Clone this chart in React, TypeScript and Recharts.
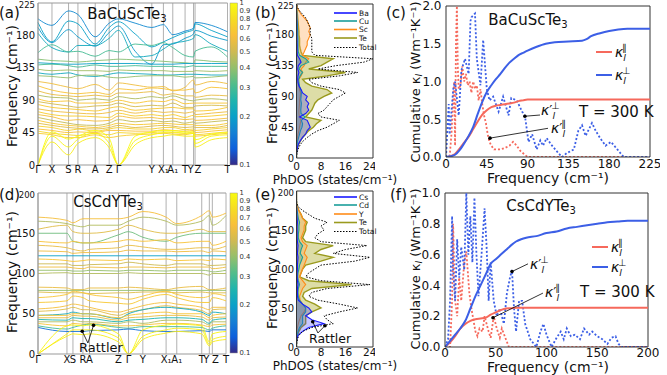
import React from "react";
import {
  LineChart,
  Line,
  XAxis,
  YAxis,
  ReferenceLine,
  ReferenceDot,
  ComposedChart,
  Area,
} from "recharts";

const FONT = "DejaVu Sans";
const INK = "#111";
const FRAME = "#333";
const BAND_FRAME = "#999";

// ---------------- (a) BaCuScTe3 phonon bands ----------------
const kPathA = [0, 14, 30.6, 40, 57.3, 71.3, 80.6, 97.3, 114, 125.6, 135, 147.3, 155.8, 157.3, 173.5, 189.8];
const kLabelsA = ["Γ", "X", "S", "R", "A", "Z", "Γ", "", "Y", "X₁", "A₁", "T", "Y", "Z", "", "T"];
const bandsA = [
  [203, 194, 214, 209, 178, 197, 203, 197, 191, 195, 181, 186, 190, 198, 194, 185],
  [198, 171, 200, 196, 168, 191, 199, 182, 164, 171, 177, 184, 188, 196, 187, 178],
  [191, 170, 188, 178, 165, 184, 193, 158, 140, 167, 168, 176, 182, 187, 179, 173],
  [183, 163, 157, 166, 166, 176, 187, 150, 152, 161, 169, 172, 176, 181, 168, 158],
  [156, 167, 157, 158, 151, 159, 157, 168, 166, 170, 163, 152, 150, 158, 164, 150],
  [147, 145, 144, 143, 145, 146, 147, 146, 145, 144, 143, 142, 141, 146, 144, 143],
  [142, 141, 140, 140, 141, 141, 141, 141, 140, 140, 140, 141, 141, 141, 141, 141],
  [139, 140, 138, 136, 139, 137, 137, 138, 137, 137, 137, 136, 138, 137, 137, 137],
  [133, 131, 132, 131, 131, 130, 132, 131, 131, 131, 130, 130, 130, 131, 130, 131],
  [128, 126, 128, 125, 123, 126, 128, 127, 126, 125, 125, 126, 126, 126, 125, 125],
  [124, 123, 121, 124, 125, 122, 121, 123, 124, 124, 124, 122, 123, 121, 122, 124],
  [116, 113, 108, 106, 112, 104, 114, 111, 108, 109, 103, 108, 118, 111, 116, 113],
  [110, 104, 100, 99, 101, 98, 106, 104, 107, 106, 104, 104, 106, 100, 108, 106],
  [103, 98, 96, 95, 97, 95, 100, 100, 102, 97, 99, 96, 96, 94, 97, 96],
  [97, 94, 93, 90, 92, 90, 95, 92, 95, 93, 96, 91, 89, 90, 92, 90],
  [92, 88, 89, 86, 86, 87, 90, 86, 89, 88, 91, 85, 86, 86, 86, 86],
  [88, 85, 82, 80, 82, 83, 86, 81, 83, 82, 86, 80, 80, 82, 83, 82],
  [84, 80, 78, 77, 75, 79, 81, 76, 78, 79, 80, 78, 78, 75, 76, 80],
  [78, 75, 73, 72, 71, 73, 76, 72, 75, 73, 74, 72, 74, 70, 72, 74],
  [74, 70, 68, 68, 67, 66, 72, 68, 70, 68, 70, 66, 69, 67, 68, 70],
  [70, 67, 62, 63, 61, 62, 68, 65, 66, 64, 65, 63, 64, 62, 63, 65],
  [66, 62, 58, 56, 55, 58, 63, 60, 62, 60, 61, 58, 60, 58, 60, 62],
  [62, 58, 55, 54, 52, 55, 58, 56, 57, 58, 57, 56, 56, 55, 55, 58],
  [58, 55, 52, 51, 50, 52, 55, 52, 54, 55, 54, 52, 53, 52, 52, 55],
  [54, 52, 48, 50, 47, 50, 52, 50, 50, 52, 52, 49, 50, 48, 50, 52],
  [50, 48, 45, 46, 45, 48, 48, 47, 47, 49, 48, 47, 48, 45, 47, 49],
  [47, 44, 42, 41, 44, 42, 45, 44, 45, 46, 45, 44, 46, 42, 44, 46],
  [44, 42, 38, 38, 42, 38, 40, 42, 43, 44, 43, 42, 44, 40, 42, 44],
  [0, 46, 36, 40, 48, 37, 0, 40, 46, 48, 48, 46, 46, 35, 43, 45],
  [0, 40, 25, 36, 44, 30, 0, 34, 42, 45, 46, 44, 44, 30, 40, 42],
  [0, 32, 14, 30, 38, 24, 0, 28, 38, 40, 42, 40, 40, 25, 35, 38],
];
const weightsA = [
  0.17, 0.2, 0.19, 0.22, 0.3, 0.38, 0.2, 0.3, 0.42, 0.22, 0.4,
  0.6, 0.65, 0.58, 0.45, 0.66, 0.52, 0.68, 0.6, 0.7, 0.62, 0.48, 0.68, 0.55, 0.72, 0.64, 0.75, 0.7,
  1, 0.95, 0.9,
];

// ---------------- (d) CsCdYTe3 phonon bands ----------------
const kPathD = [0, 29, 35, 45, 51.6, 80.6, 90.6, 105, 128.3, 139, 164, 171.6, 174.6, 188.3];
const kLabelsD = ["Γ", "X", "S", "R", "A", "Z", "Γ", "Y", "X₁", "A₁", "T", "Y", "Z", "T"];
const bandsD = [
  [170, 166, 163, 168, 168, 168, 170, 177, 170, 162, 172, 178, 170, 175],
  [165, 162, 160, 158, 160, 160, 165, 170, 165, 160, 165, 172, 160, 172],
  [155, 160, 152, 150, 150, 155, 160, 155, 150, 150, 155, 152, 152, 152],
  [150, 150, 140, 138, 138, 148, 152, 145, 140, 145, 150, 150, 150, 150],
  [140, 138, 140, 138, 138, 140, 142, 140, 142, 138, 140, 140, 135, 140],
  [135, 132, 130, 128, 130, 132, 135, 133, 130, 130, 132, 132, 130, 134],
  [128, 127, 125, 126, 126, 127, 129, 128, 128, 127, 128, 126, 128, 127],
  [122, 122, 122, 122, 122, 122, 122, 122, 122, 122, 122, 122, 122, 122],
  [118, 116, 115, 116, 117, 116, 118, 117, 118, 116, 117, 116, 118, 117],
  [112, 112, 110, 110, 111, 112, 114, 112, 110, 112, 112, 110, 110, 111],
  [108, 108, 107, 106, 108, 107, 108, 108, 107, 108, 108, 108, 106, 108],
  [104, 104, 103, 103, 104, 103, 104, 104, 103, 104, 104, 103, 102, 104],
  [100, 101, 100, 100, 100, 100, 101, 100, 100, 100, 100, 98, 100, 100],
  [83, 82, 80, 80, 82, 82, 83, 82, 80, 82, 84, 80, 80, 82],
  [79, 79, 79, 79, 79, 79, 79, 79, 79, 79, 79, 79, 79, 79],
  [77, 76, 76, 76, 75, 76, 76, 77, 77, 76, 77, 76, 76, 76],
  [70, 74, 78, 76, 74, 70, 68, 72, 78, 74, 70, 72, 75, 72],
  [64, 66, 72, 70, 66, 63, 62, 68, 74, 70, 64, 64, 70, 66],
  [56, 60, 62, 60, 58, 52, 55, 60, 64, 62, 58, 55, 58, 58],
  [53, 56, 58, 55, 55, 48, 52, 55, 60, 58, 54, 50, 55, 56],
  [48, 50, 52, 50, 50, 44, 50, 55, 58, 57, 52, 48, 52, 50],
  [48, 48, 50, 50, 50, 45, 48, 50, 52, 50, 50, 45, 48, 50],
  [45, 45, 48, 47, 47, 42, 45, 46, 48, 48, 46, 42, 45, 46],
  [43, 42, 45, 44, 44, 40, 42, 43, 45, 45, 43, 38, 42, 44],
  [40, 40, 42, 40, 40, 38, 40, 38, 42, 42, 40, 36, 40, 40],
  [38, 35, 38, 37, 38, 35, 35, 36, 38, 38, 36, 34, 36, 37],
  [35, 31, 33, 36, 37, 33, 32, 34, 34, 34, 33, 30, 32, 35],
  [33, 28, 28, 28, 29, 30, 31, 29, 28, 28, 29, 28, 30, 30],
  [0, 35, 36, 35, 36, 25, 0, 30, 36, 37, 35, 15, 25, 28],
  [0, 25, 30, 30, 30, 20, 0, 22, 30, 32, 30, 12, 18, 22],
  [0, 22, 25, 24, 25, 15, 0, 18, 26, 28, 25, 10, 15, 18],
];
const weightsD = [
  0.62, 0.45, 0.55, 0.35, 0.65, 0.58, 0.6, 0.2, 0.66, 0.5, 0.6, 0.4, 0.45,
  0.58, 0.4, 0.55, 0.66, 0.68, 0.62, 0.55, 0.22, 0.66, 0.58, 0.25, 0.45, 0.65, 0.3,
  0.14, 0.95, 0.92, 0.9,
];

// ---------------- (b) / (e) phonon DOS ----------------
const freqB = [0, 5, 10, 15, 20, 25, 30, 35, 40, 45, 50, 55, 60, 65, 70, 75, 80, 85, 90, 95, 100, 105, 110, 115, 120, 125, 130, 135, 140, 145, 150, 155, 160, 165, 170, 175, 180, 185, 190, 195, 200, 205, 210, 215, 220, 225];
const dosBa = [0, 0, 0.1, 0.3, 0.6, 1.2, 2, 3, 3.5, 4.5, 4, 3.5, 1, 3, 4, 3.5, 4, 3, 3.5, 2, 1.5, 0.8, 0.5, 0.4, 0.5, 0.8, 0.4, 0.6, 1.5, 1, 0.3, 0.2, 0.2, 0.2, 0.15, 0.15, 0.1, 0.1, 0.1, 0.1, 0.1, 0.05, 0.05, 0, 0, 0];
const dosCu = [0, 0, 0.05, 0.1, 0.2, 0.4, 0.7, 1, 1.3, 1.8, 2, 1.6, 2.8, 1.5, 1.4, 1.5, 1.6, 1.4, 1.5, 1.6, 1.4, 1, 0.8, 0.7, 1.2, 2, 0.8, 1.5, 4, 3, 1, 0.6, 0.5, 0.5, 0.5, 0.5, 0.4, 0.4, 0.3, 0.3, 0.2, 0.1, 0.1, 0.05, 0, 0];
const dosSc = [0, 0, 0, 0.05, 0.1, 0.2, 0.3, 0.5, 0.8, 1, 1.2, 1.5, 1, 0.8, 0.8, 0.9, 1, 1, 1.2, 1.3, 1, 0.8, 0.7, 0.8, 1.5, 2, 1.5, 2.5, 3, 4, 2, 2.5, 3, 3.5, 3.5, 4, 4.5, 4, 4.5, 4, 3.5, 2.5, 1.5, 0.8, 0.2, 0];
const dosTeB = [0, 0, 0.1, 0.3, 0.7, 1.3, 2, 3, 4, 5.5, 6.5, 8, 3, 4, 5, 5.5, 6, 7, 9, 11.5, 10, 5, 3, 2, 10, 16, 4, 8, 10, 12, 2, 1.5, 1.2, 1, 1, 1, 0.8, 0.8, 0.7, 0.6, 0.5, 0.4, 0.3, 0.2, 0.1, 0];
const dosTotB = [0, 0.1, 0.3, 0.7, 1.3, 2.2, 3.5, 5, 7, 10, 12, 14, 8, 7, 9, 10, 11, 12, 14, 16, 14, 8, 5, 4, 14, 20, 7, 13, 22, 25, 6, 5, 5, 5, 5, 5, 4.5, 4.5, 4.5, 4, 3.5, 3, 2, 1, 0.3, 0];
const elementsB = ["Ba", "Cu", "Sc", "Te"];

const freqE = [0, 5, 10, 15, 20, 25, 30, 35, 40, 45, 50, 55, 60, 65, 70, 75, 80, 85, 90, 95, 100, 105, 110, 115, 120, 125, 130, 135, 140, 145, 150, 155, 160, 165, 170, 175, 180, 185, 190, 195, 200];
const dosCs = [0, 0, 0.1, 0.5, 2, 4, 9, 5, 3, 5, 4, 2, 0.6, 0.3, 0.3, 0.3, 0.5, 0.3, 0.2, 0.2, 0.3, 0.3, 0.4, 0.5, 0.3, 0.4, 0.5, 0.3, 0.2, 0.2, 0.2, 0.2, 0.3, 0.2, 0.1, 0.1, 0, 0, 0, 0, 0];
const dosCd = [0, 0, 0.05, 0.2, 0.5, 1, 2, 2, 2, 3, 3, 2, 1, 0.6, 0.5, 0.6, 1, 0.6, 0.4, 0.5, 0.8, 1, 1.5, 2, 1.2, 1.5, 2, 1, 0.6, 0.6, 0.8, 0.8, 1, 0.6, 0.4, 0.2, 0.05, 0, 0, 0, 0];
const dosY = [0, 0, 0, 0.05, 0.1, 0.3, 0.6, 1, 1.5, 2.5, 3, 2, 1.2, 1, 1.5, 2, 3, 2, 1, 1.5, 2, 2.5, 3, 3.5, 2.5, 3, 3.5, 2, 1.5, 2, 2.5, 2.5, 3, 2, 1.5, 0.8, 0.2, 0, 0, 0, 0];
const dosTeE = [0, 0, 0.1, 0.3, 0.8, 1.5, 3, 3, 3, 5, 8, 6, 3, 2, 2.5, 5, 18, 4, 1, 1.5, 2, 3, 8, 12, 6, 8, 12, 3, 2, 2.5, 3, 3, 3.5, 2, 1.5, 0.8, 0.2, 0, 0, 0, 0];
const dosTotE = [0, 0.1, 0.3, 0.8, 2, 5, 12, 10, 9, 14, 20, 14, 7, 4, 5, 10, 24, 8, 3, 4, 6, 8, 19, 24, 12, 16, 23, 8, 6, 7, 9, 8, 10, 6, 4, 2, 0.5, 0.1, 0, 0, 0];
const elementsE = ["Cs", "Cd", "Y", "Te"];

// ---------------- (c) cumulative kappa, BaCuScTe3 ----------------
const cumFreqC = [0, 5, 10, 15, 20, 25, 30, 35, 40, 45, 50, 55, 60, 65, 70, 75, 80, 85, 90, 100, 110, 120, 135, 150, 155, 160, 170, 180, 190, 200, 225];
const kParC = [0, 0.01, 0.04, 0.11, 0.19, 0.27, 0.37, 0.47, 0.56, 0.62, 0.66, 0.68, 0.69, 0.7, 0.71, 0.72, 0.74, 0.75, 0.76, 0.76, 0.76, 0.76, 0.76, 0.76, 0.76, 0.76, 0.76, 0.76, 0.76, 0.76, 0.76];
const kPerpC = [0, 0.01, 0.03, 0.09, 0.18, 0.28, 0.4, 0.57, 0.73, 0.86, 0.95, 1.03, 1.1, 1.18, 1.25, 1.3, 1.35, 1.38, 1.41, 1.46, 1.5, 1.52, 1.53, 1.54, 1.56, 1.6, 1.64, 1.67, 1.69, 1.7, 1.7];
const specFreqParC = [
  0, 4, 6, 8, 9, 10, 11, 12, 13, 14,
  16, 18, 20, 22, 24, 26, 28, 30, 32, 34,
  36, 38, 40, 42, 44, 46, 48, 50, 53, 56,
  60, 65, 70, 74, 78, 82, 86, 90, 225,
];
const specParC = [
  0, 0, 0.3, 0.8, 1.0, 0.15, 1.5, 2.0, 1.2, 0.9,
  0.95, 1.2, 1.0, 1.1, 0.95, 1.0, 0.85, 1.0, 0.9, 0.95,
  0.75, 0.9, 0.7, 0.55, 0.45, 0.3, 0.2, 0.15, 0.1, 0.1,
  0.1, 0.12, 0.15, 0.2, 0.15, 0.08, 0.04, 0, 0,
];
const specFreqPerpC = [
  0, 3, 4, 8, 10, 14, 17, 21, 25, 27,
  28, 32, 34, 38, 41, 45, 48, 52, 58, 63,
  69, 72, 78, 84, 87, 91, 95, 100, 104, 107,
  111, 117, 124, 128, 133, 141, 146, 150, 154, 161,
  165, 170, 176, 182, 189, 196, 225,
];
const specPerpC = [
  0, 0.7, 0.3, 0.9, 1.0, 0.55, 1.15, 1.3, 1.1, 1.8,
  1.85, 1.9, 1.3, 0.95, 1.55, 0.9, 0.75, 0.8, 0.6, 0.8,
  0.55, 0.78, 0.75, 0.6, 0.55, 0.2, 0.3, 0.1, 0.22, 0.15,
  0.25, 0.15, 0.05, 0, 0.05, 0.1, 0.35, 0.42, 0.28, 0.45,
  0.35, 0.25, 0.15, 0.2, 0.1, 0, 0,
];

// ---------------- (f) cumulative kappa, CsCdYTe3 ----------------
const cumFreqF = [0, 5, 10, 15, 20, 25, 30, 35, 40, 45, 50, 55, 60, 65, 70, 75, 80, 90, 100, 110, 120, 130, 140, 150, 160, 170, 180, 200];
const kParF = [0, 0.03, 0.07, 0.12, 0.15, 0.17, 0.18, 0.185, 0.19, 0.21, 0.225, 0.24, 0.25, 0.252, 0.255, 0.255, 0.255, 0.255, 0.255, 0.255, 0.255, 0.255, 0.255, 0.255, 0.255, 0.255, 0.255, 0.255];
const kPerpF = [0, 0.04, 0.08, 0.12, 0.17, 0.25, 0.33, 0.4, 0.47, 0.54, 0.57, 0.6, 0.63, 0.66, 0.685, 0.7, 0.71, 0.72, 0.74, 0.75, 0.77, 0.78, 0.79, 0.8, 0.81, 0.815, 0.82, 0.82];
const specFreqParF = [
  0, 5, 7, 8, 10, 12, 14, 16, 19, 21,
  24, 26, 30, 32, 34, 37, 39, 43, 45, 48,
  51, 54, 56, 60, 63, 200,
];
const specParF = [
  0, 0, 0.3, 0.8, 0.3, 0.2, 0.45, 0.3, 0.55, 0.62,
  0.35, 0.25, 0.1, 0.07, 0.12, 0.1, 0.2, 0.1, 0.06, 0.2,
  0.12, 0.06, 0.12, 0.05, 0, 0,
];
const specFreqPerpF = [
  0, 3, 5, 7, 8, 10, 12, 14, 16, 19,
  21, 23, 25, 27, 29, 31, 33, 36, 39, 41,
  43, 45, 48, 51, 54, 58, 61, 64, 66, 68,
  70, 73, 76, 79, 84, 90, 94, 97, 100, 105,
  110, 114, 117, 120, 124, 128, 133, 137, 142, 145,
  150, 155, 160, 164, 168, 171, 174, 200,
];
const specPerpF = [
  0, 0.05, 0.3, 0.85, 0.5, 0.3, 0.7, 0.45, 0.65, 0.5,
  1.0, 0.6, 0.85, 0.55, 0.97, 0.6, 0.33, 0.6, 0.9, 0.65,
  0.3, 0.55, 0.3, 0.2, 0.25, 0.15, 0.35, 0.45, 0.5, 0.25,
  0.1, 0.3, 0.3, 0.15, 0.05, 0, 0.1, 0.15, 0.08, 0,
  0.06, 0.1, 0.05, 0.12, 0.07, 0.08, 0.05, 0.12, 0.08, 0.1,
  0.07, 0.05, 0.02, 0.06, 0.07, 0.02, 0, 0,
];

const colorbarTicks = [1, 0.9, 0.8, 0.7, 0.6, 0.5, 0.4, 0.3, 0.2, 0.1];

// parula-like colour map, position on the log colour scale 0..1
const PARULA: [number, string][] = [
  [0, "#352a87"],
  [0.1, "#0d5fdc"],
  [0.2, "#1580d4"],
  [0.3, "#0aa1c8"],
  [0.4, "#1fb4ad"],
  [0.5, "#51bd8b"],
  [0.6, "#94bf6c"],
  [0.7, "#cfba52"],
  [0.8, "#f8bf3a"],
  [0.9, "#f6dc22"],
  [1, "#f9fb0e"],
];

function hexToRgb(h: string) {
  return [1, 3, 5].map((i) => parseInt(h.slice(i, i + 2), 16));
}

function parula(t: number): string {
  const c = Math.max(0, Math.min(1, t));
  for (let i = 1; i < PARULA.length; i++) {
    const [t1, c1] = PARULA[i];
    const [t0, c0] = PARULA[i - 1];
    if (c <= t1) {
      const f = (c - t0) / (t1 - t0);
      const a = hexToRgb(c0);
      const b = hexToRgb(c1);
      const m = a.map((v, k) => Math.round(v + (b[k] - v) * f));
      return `rgb(${m[0]},${m[1]},${m[2]})`;
    }
  }
  return PARULA[PARULA.length - 1][1];
}

const weightColor = (w: number) => parula(1 + Math.log10(w));

const RED = "#f6695c";
const BLUE = "#3c5fe6";

const DOS_STYLE = [
  { stroke: "#1a1aff", fill: "#3333ff", op: 0.28, w: 1.1 },
  { stroke: "#1b9e9a", fill: "#1b9e9a", op: 0.3, w: 1.1 },
  { stroke: "#ff8c1a", fill: "#ffa64d", op: 0.35, w: 1.1 },
  { stroke: "#9a9a1e", fill: "#b3b33c", op: 0.45, w: 1.4 },
];

type Arrow = { from: [number, number]; to: [number, number] };

function arrowMarks(arrows: Arrow[]) {
  return arrows.flatMap((a, i) => [
    <ReferenceLine
      key={"al" + i}
      segment={[{ x: a.from[0], y: a.from[1] }, { x: a.to[0], y: a.to[1] }]}
      stroke="#000"
      strokeWidth={0.8}
      ifOverflow="visible"
    />,
    <ReferenceDot key={"ad" + i} x={a.to[0]} y={a.to[1]} r={1.8} fill="#000" stroke="none" ifOverflow="visible" />,
  ]);
}

// y tick where the top label is drawn a little smaller, as in the figure
function yTickRenderer(max: number) {
  return (p: any) => {
    const top = p.payload.value === max;
    return (
      <text
        x={p.x}
        y={p.y + (top ? 1.5 : 0)}
        dy="0.355em"
        textAnchor="end"
        fontSize={top ? 8.5 : 10}
        fill={INK}
        fontFamily={FONT}
      >
        {p.payload.value}
      </text>
    );
  };
}

function BandChart(props: {
  kPath: number[];
  kLabels: string[];
  bands: number[][];
  weights: number[];
  yMax: number;
  yTicks: number[];
  width: number;
  height: number;
  margin: { top: number; right: number; bottom: number; left: number };
  xAxisHeight: number;
  tickGap: number;
  arrows?: Arrow[];
}) {
  const { kPath, kLabels, bands, weights, yMax, yTicks } = props;
  const data = kPath.map((k, j) => {
    const row: Record<string, number> = { k };
    bands.forEach((b, i) => (row["b" + i] = b[j]));
    return row;
  });
  const ticks = kPath.filter((_, j) => kLabels[j] !== "");
  const labels = kLabels.filter((l) => l !== "");
  const xMax = kPath[kPath.length - 1];
  const renderTick = (p: any) => {
    const i = ticks.indexOf(p.payload.value);
    let dx = 0;
    if (i < ticks.length - 1 && ticks[i + 1] - ticks[i] < 5) dx = -3;
    else if (i > 0 && ticks[i] - ticks[i - 1] < 5) dx = 3;
    return (
      <text x={p.x + dx} y={p.y} dy="0.71em" textAnchor="middle" fontSize={10} fill={INK} fontFamily={FONT}>
        {labels[i]}
      </text>
    );
  };
  return (
    <LineChart width={props.width} height={props.height} data={data} margin={props.margin}>
      <XAxis
        type="number"
        dataKey="k"
        domain={[0, xMax]}
        ticks={ticks}
        interval={0}
        tick={renderTick}
        tickLine={false}
        tickSize={0}
        tickMargin={props.tickGap}
        height={props.xAxisHeight}
        axisLine={{ stroke: BAND_FRAME }}
      />
      <YAxis
        type="number"
        domain={[0, yMax]}
        ticks={yTicks}
        interval={0}
        width={30}
        tickLine={false}
        tickSize={0}
        tickMargin={3}
        axisLine={{ stroke: BAND_FRAME }}
        tick={yTickRenderer(yMax)}
      />
      {ticks.map((x) => (
        <ReferenceLine key={"k" + x} x={x} stroke="#b0b0b0" strokeWidth={1} />
      ))}
      <ReferenceLine y={yMax} stroke={BAND_FRAME} />
      {bands.map((_, i) => (
        <Line
          key={i}
          dataKey={"b" + i}
          type="monotone"
          dot={false}
          stroke={weightColor(weights[i])}
          strokeWidth={1}
          strokeOpacity={0.9}
          isAnimationActive={false}
        />
      ))}
      {arrowMarks(props.arrows || [])}
    </LineChart>
  );
}

function DosChart(props: {
  freqs: number[];
  elements: number[][];
  total: number[];
  yMax: number;
  yTicks: number[];
  width: number;
  height: number;
  margin: { top: number; right: number; bottom: number; left: number };
  tickGap: number;
  arrows?: Arrow[];
}) {
  const { freqs, elements, total, yMax } = props;
  const rows = freqs.map((f, j) => {
    const r: Record<string, number> = { f, tot: total[j] };
    elements.forEach((e, i) => (r["e" + i] = e[j]));
    return r;
  });
  const order = [3, 2, 1, 0];
  return (
    <ComposedChart layout="vertical" width={props.width} height={props.height} data={rows} margin={props.margin}>
      <XAxis
        type="number"
        domain={[0, 25]}
        ticks={[0, 8, 16, 24]}
        allowDataOverflow
        height={18}
        tickLine={false}
        tickSize={0}
        tickMargin={props.tickGap}
        axisLine={{ stroke: FRAME }}
        tick={{ fontSize: 10.5, fill: INK, fontFamily: FONT }}
      />
      <YAxis
        type="number"
        dataKey="f"
        domain={[0, yMax]}
        ticks={props.yTicks}
        interval={0}
        reversed
        width={30}
        tickLine={false}
        tickSize={0}
        tickMargin={2.5}
        axisLine={{ stroke: FRAME }}
        tick={yTickRenderer(yMax)}
      />
      <ReferenceLine y={yMax} stroke={FRAME} />
      <ReferenceLine x={25} stroke={FRAME} />
      {order.map((i) => (
        <Area
          key={"a" + i}
          dataKey={"e" + i}
          type="linear"
          stroke={DOS_STYLE[i].stroke}
          strokeWidth={DOS_STYLE[i].w}
          fill={DOS_STYLE[i].fill}
          fillOpacity={DOS_STYLE[i].op}
          dot={false}
          activeDot={false}
          isAnimationActive={false}
        />
      ))}
      <Line
        dataKey="tot"
        type="linear"
        stroke="#000"
        strokeWidth={1}
        strokeDasharray="1.5 1.5"
        dot={false}
        activeDot={false}
        isAnimationActive={false}
      />
      {arrowMarks(props.arrows || [])}
    </ComposedChart>
  );
}

function zip(xs: number[], ys: number[]) {
  return xs.map((x, i) => ({ x, y: ys[i] }));
}

function KappaChart(props: {
  cumFreq: number[];
  kPar: number[];
  kPerp: number[];
  specFreqPar: number[];
  specPar: number[];
  specFreqPerp: number[];
  specPerp: number[];
  xMax: number;
  xTicks: number[];
  yMax: number;
  yTicks: number[];
  width: number;
  height: number;
  margin: { top: number; right: number; bottom: number; left: number };
  tickGap: number;
  arrows: Arrow[];
}) {
  const { xMax, yMax } = props;
  const dotted = { strokeWidth: 1.8, strokeDasharray: "2 2", dot: false, activeDot: false, isAnimationActive: false };
  return (
    <LineChart width={props.width} height={props.height} margin={props.margin}>
      <XAxis
        type="number"
        dataKey="x"
        domain={[0, xMax]}
        ticks={props.xTicks}
        interval={0}
        allowDataOverflow
        height={20}
        tickLine={false}
        tickSize={0}
        tickMargin={props.tickGap}
        axisLine={{ stroke: FRAME }}
        tick={{ fontSize: 12, fill: INK, fontFamily: FONT }}
      />
      <YAxis
        type="number"
        domain={[0, yMax]}
        ticks={props.yTicks}
        interval={0}
        allowDataOverflow
        width={30}
        tickLine={false}
        tickSize={0}
        tickMargin={4.5}
        axisLine={{ stroke: FRAME }}
        tickFormatter={(v: number) => v.toFixed(1)}
        tick={{ fontSize: 12, fill: INK, fontFamily: FONT }}
      />
      <ReferenceLine y={yMax} stroke={FRAME} />
      <ReferenceLine x={xMax} stroke={FRAME} />
      <Line data={zip(props.specFreqPar, props.specPar)} dataKey="y" type="linear" stroke={RED} {...dotted} />
      <Line data={zip(props.specFreqPerp, props.specPerp)} dataKey="y" type="linear" stroke={BLUE} {...dotted} />
      <Line
        data={zip(props.cumFreq, props.kPar)}
        dataKey="y"
        type="monotone"
        stroke={RED}
        strokeWidth={2}
        dot={false}
        activeDot={false}
        isAnimationActive={false}
      />
      <Line
        data={zip(props.cumFreq, props.kPerp)}
        dataKey="y"
        type="monotone"
        stroke={BLUE}
        strokeWidth={2}
        dot={false}
        activeDot={false}
        isAnimationActive={false}
      />
      {arrowMarks(props.arrows)}
    </LineChart>
  );
}

// ---------- text overlay ----------
function Kappa({ x, y, prime, sup, size = 15 }: { x: number; y: number; prime?: boolean; sup: string; size?: number }) {
  return (
    <text x={x} y={y} fontSize={size} fontFamily={FONT} fill={INK}>
      <tspan fontStyle="italic">κ</tspan>
      {prime ? <tspan>′</tspan> : null}
      <tspan fontSize={size * 0.68} dy={size * 0.3} fontStyle="italic">l</tspan>
      <tspan fontSize={size * 0.68} dx={-size * 0.28} dy={-size * 0.72}>{sup}</tspan>
    </text>
  );
}

function VLabel({ x, y, size = 14, children }: { x: number; y: number; size?: number; children: React.ReactNode }) {
  return (
    <text
      transform={`translate(${x},${y}) rotate(-90)`}
      textAnchor="middle"
      dominantBaseline="central"
      fontSize={size}
      fontFamily={FONT}
      fill={INK}
    >
      {children}
    </text>
  );
}

function T({ x, y, size = 14, anchor = "start", children }: { x: number; y: number; size?: number; anchor?: string; children: React.ReactNode }) {
  return (
    <text x={x} y={y} fontSize={size} fontFamily={FONT} fill={INK} textAnchor={anchor as any}>
      {children}
    </text>
  );
}

function Colorbar({ top, height }: { top: number; height: number }) {
  return (
    <g>
      <rect x={230} y={top} width={7.5} height={height} fill="url(#cbarGrad)" stroke="#999" strokeWidth={0.5} />
      {colorbarTicks.map((v) => (
        <text key={v} x={239.5} y={top - Math.log10(v) * height} dy="0.35em" fontSize={6.8} fontFamily={FONT} fill="#333">
          {String(v)}
        </text>
      ))}
    </g>
  );
}

function DosLegend({ x, rows, names }: { x: number; rows: number[]; names: string[] }) {
  const items = [...names, "Total"];
  return (
    <g>
      {items.map((n, i) => {
        const st = DOS_STYLE[i];
        return (
          <g key={n}>
            <line
              x1={x}
              x2={x + 23}
              y1={rows[i]}
              y2={rows[i]}
              stroke={st ? st.stroke : "#000"}
              strokeWidth={st ? 1.6 : 1}
              strokeDasharray={st ? undefined : "1.5 1.5"}
            />
            <text x={x + 25} y={rows[i]} dy="0.35em" fontSize={7.5} fontFamily={FONT} fill={INK}>
              {n}
            </text>
          </g>
        );
      })}
    </g>
  );
}

function Overlay() {
  const sub3 = (
    <tspan fontSize={10} dy={3}>
      3
    </tspan>
  );
  return (
    <svg width={667} height={375} style={{ position: "absolute", left: 0, top: 0, pointerEvents: "none" }}>
      <defs>
        <linearGradient id="cbarGrad" x1="0" y1="1" x2="0" y2="0">
          {PARULA.map(([t, c]) => (
            <stop key={t} offset={t} stopColor={c} />
          ))}
        </linearGradient>
      </defs>

      {/* panel letters */}
      <T x={-1} y={18} size={15}>(a)</T>
      <T x={255} y={18} size={15}>(b)</T>
      <T x={386} y={18} size={15}>(c)</T>
      <T x={-1} y={200} size={15}>(d)</T>
      <T x={255} y={200} size={15}>(e)</T>
      <T x={390} y={200} size={15}>(f)</T>

      {/* titles */}
      <T x={127} y={19} size={15} anchor="middle">BaCuScTe{sub3}</T>
      <T x={528} y={25} size={15} anchor="middle">BaCuScTe{sub3}</T>
      <T x={108} y={207} size={15} anchor="middle">CsCdYTe{sub3}</T>
      <T x={541} y={211} size={15} anchor="middle">CsCdYTe{sub3}</T>

      {/* axis titles */}
      <VLabel x={12} y={86}>Frequency (cm⁻¹)</VLabel>
      <VLabel x={272} y={83}>Frequency (cm⁻¹)</VLabel>
      <VLabel x={12} y={272}>Frequency (cm⁻¹)</VLabel>
      <VLabel x={272} y={268}>Frequency (cm⁻¹)</VLabel>
      <VLabel x={415} y={82} size={13}>
        Cumulative κ<tspan fontSize={9.5} dy={3} fontStyle="italic">l</tspan>
        <tspan dy={-3}> (Wm⁻¹K⁻¹)</tspan>
      </VLabel>
      <VLabel x={415} y={269} size={13}>
        Cumulative κ<tspan fontSize={9.5} dy={3} fontStyle="italic">l</tspan>
        <tspan dy={-3}> (Wm⁻¹K⁻¹)</tspan>
      </VLabel>
      <T x={335} y={184} size={12} anchor="middle">PhDOS (states/cm⁻¹)</T>
      <T x={335} y={370} size={12} anchor="middle">PhDOS (states/cm⁻¹)</T>
      <T x={548} y={183} size={14} anchor="middle">Frequency (cm⁻¹)</T>
      <T x={548} y={372} size={14} anchor="middle">Frequency (cm⁻¹)</T>

      {/* colorbars */}
      <Colorbar top={3} height={162} />
      <Colorbar top={193} height={160} />

      {/* DOS legends */}
      <DosLegend x={334} rows={[13, 21, 29.5, 38, 47.5]} names={elementsB} />
      <DosLegend x={334} rows={[197, 205, 214, 222.5, 231.5]} names={elementsE} />

      {/* kappa legends */}
      <line x1={596} x2={612} y1={52} y2={52} stroke={RED} strokeWidth={2} />
      <Kappa x={615} y={57} sup="∥" size={14} />
      <line x1={596} x2={612} y1={75} y2={75} stroke={BLUE} strokeWidth={2} />
      <Kappa x={615} y={80} sup="⊥" size={14} />
      <T x={579} y={117} size={15}>T = 300 K</T>
      <Kappa x={541} y={115} prime sup="⊥" size={14} />
      <Kappa x={551} y={133} prime sup="∥" size={14} />

      <line x1={592} x2={608} y1={247} y2={247} stroke={RED} strokeWidth={2} />
      <Kappa x={611} y={252} sup="∥" size={14} />
      <line x1={592} x2={608} y1={267} y2={267} stroke={BLUE} strokeWidth={2} />
      <Kappa x={611} y={272} sup="⊥" size={14} />
      <T x={580} y={297} size={15}>T = 300 K</T>
      <Kappa x={530} y={269} prime sup="⊥" size={14} />
      <Kappa x={545} y={297} prime sup="∥" size={14} />

      {/* rattler labels */}
      <T x={79} y={352} size={13}>Rattler</T>
      <T x={309} y={343} size={12.5}>Rattler</T>
    </svg>
  );
}

export default function App() {
  return (
    <div style={{ position: "absolute", left: 0, top: 0, width: 667, height: 375, background: "#fff", overflow: "hidden" }}>
      <div style={{ position: "absolute", left: 0, top: 0 }}>
        <BandChart
          kPath={kPathA}
          kLabels={kLabelsA}
          bands={bandsA}
          weights={weightsA}
          yMax={225}
          yTicks={[0, 45, 90, 135, 180, 225]}
          width={230}
          height={185}
          margin={{ top: 3, right: 2.5, bottom: 0, left: 8 }}
          xAxisHeight={20}
          tickGap={1}
        />
      </div>
      <div style={{ position: "absolute", left: 250, top: 0 }}>
        <DosChart
          freqs={freqB}
          elements={[dosBa, dosCu, dosSc, dosTeB]}
          total={dosTotB}
          yMax={225}
          yTicks={[0, 45, 90, 135, 180, 225]}
          width={125}
          height={185}
          margin={{ top: 4, right: 2, bottom: 9, left: 16.5 }}
          tickGap={5}
        />
      </div>
      <div style={{ position: "absolute", left: 380, top: 0 }}>
        <KappaChart
          cumFreq={cumFreqC}
          kPar={kParC}
          kPerp={kPerpC}
          specFreqPar={specFreqParC}
          specPar={specParC}
          specFreqPerp={specFreqPerpC}
          specPerp={specPerpC}
          xMax={225}
          xTicks={[0, 45, 90, 135, 180, 225]}
          yMax={2}
          yTicks={[0, 0.5, 1, 1.5, 2]}
          width={280}
          height={185}
          margin={{ top: 6, right: 10, bottom: 8, left: 36 }}
          tickGap={2}
          arrows={[
            { from: [103.7, 0.556], to: [87, 0.54] },
            { from: [112.5, 0.38], to: [48.5, 0.25] },
          ]}
        />
      </div>
      <div style={{ position: "absolute", left: 0, top: 185 }}>
        <BandChart
          kPath={kPathD}
          kLabels={kLabelsD}
          bands={bandsD}
          weights={weightsD}
          yMax={200}
          yTicks={[0, 50, 100, 150, 200]}
          width={230}
          height={190}
          margin={{ top: 8, right: 4, bottom: 5, left: 8 }}
          xAxisHeight={16}
          tickGap={2}
          arrows={[
            { from: [50, 13.7], to: [44.3, 28.2] },
            { from: [50, 13.7], to: [55.6, 35.6] },
          ]}
        />
      </div>
      <div style={{ position: "absolute", left: 250, top: 185 }}>
        <DosChart
          freqs={freqE}
          elements={[dosCs, dosCd, dosY, dosTeE]}
          total={dosTotE}
          yMax={200}
          yTicks={[0, 50, 100, 150, 200]}
          width={125}
          height={190}
          margin={{ top: 6, right: 2, bottom: 10, left: 16.5 }}
          tickGap={1.5}
          arrows={[
            { from: [7, 18], to: [5.3, 32.4] },
            { from: [7, 18], to: [9.3, 27.3] },
          ]}
        />
      </div>
      <div style={{ position: "absolute", left: 380, top: 185 }}>
        <KappaChart
          cumFreq={cumFreqF}
          kPar={kParF}
          kPerp={kPerpF}
          specFreqPar={specFreqParF}
          specPar={specParF}
          specFreqPerp={specFreqPerpF}
          specPerp={specPerpF}
          xMax={200}
          xTicks={[0, 50, 100, 150, 200]}
          yMax={1}
          yTicks={[0, 0.2, 0.4, 0.6, 0.8, 1]}
          width={280}
          height={190}
          margin={{ top: 8, right: 12, bottom: 8, left: 35 }}
          tickGap={1}
          arrows={[
            { from: [81.8, 0.54], to: [66, 0.49] },
            { from: [96.5, 0.35], to: [47.3, 0.19] },
          ]}
        />
      </div>
      <Overlay />
    </div>
  );
}
